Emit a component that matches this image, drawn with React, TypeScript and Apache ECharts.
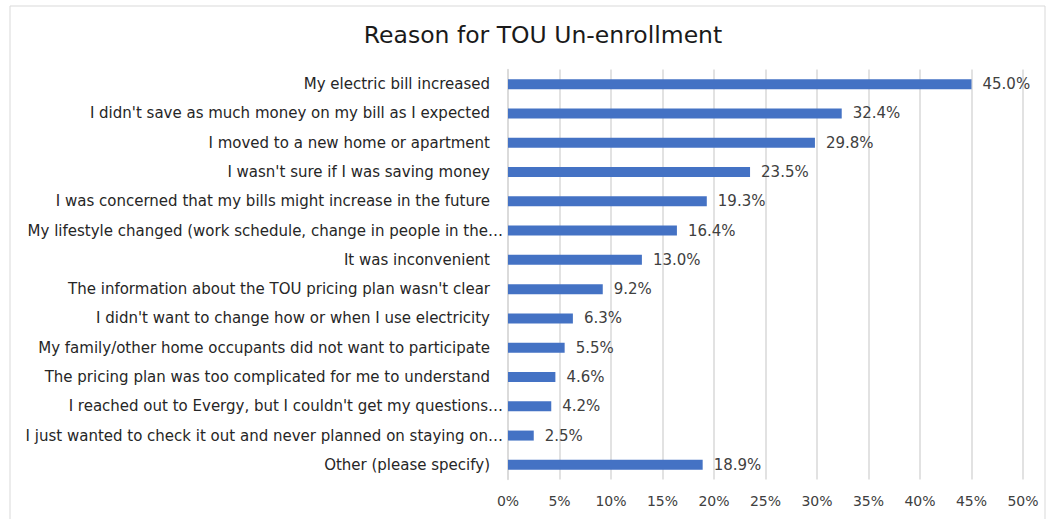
import React, { useEffect, useRef } from "react";
import * as echarts from "echarts";

const title = "Reason for TOU Un-enrollment";
const categories = [
  "My electric bill increased",
  "I didn't save as much money on my bill as I expected",
  "I moved to a new home or apartment",
  "I wasn't sure if I was saving money",
  "I was concerned that my bills might increase in the future",
  "My lifestyle changed (work schedule, change in people in the…",
  "It was inconvenient",
  "The information about the TOU pricing plan wasn't clear",
  "I didn't want to change how or when I use electricity",
  "My family/other home occupants did not want to participate",
  "The pricing plan was too complicated for me to understand",
  "I reached out to Evergy, but I couldn't get my questions…",
  "I just wanted to check it out and never planned on staying on…",
  "Other (please specify)",
];
const values = [45.0, 32.4, 29.8, 23.5, 19.3, 16.4, 13.0, 9.2, 6.3, 5.5, 4.6, 4.2, 2.5, 18.9];
const xTicks = [0, 5, 10, 15, 20, 25, 30, 35, 40, 45, 50];

const WIDE = "'DejaVu Sans', sans-serif";

export default function App() {
  const ref = useRef<HTMLDivElement>(null);
  useEffect(() => {
    if (!ref.current) return;
    const chart = echarts.init(ref.current, undefined, { renderer: "svg" });
    chart.setOption({
      animation: false,
      backgroundColor: "#ffffff",
      title: {
        text: title,
        left: 538,
        textAlign: "center",
        top: 18,
        textStyle: { fontFamily: WIDE, fontSize: 23.5, fontWeight: "normal", color: "#1a1a1a" },
      },
      graphic: [
        {
          type: "rect",
          shape: { x: 10, y: 6, width: 1035, height: 530 },
          style: { fill: "none", stroke: "#d9d9d9", lineWidth: 1 },
          silent: true,
        },
      ],
      grid: { left: 508, right: 30, top: 69.5, bottom: 39.5, containLabel: false },
      xAxis: {
        type: "value",
        min: xTicks[0],
        max: xTicks[xTicks.length - 1],
        interval: 5,
        axisLabel: {
          formatter: (v: number) => v + "%",
          fontFamily: WIDE,
          fontSize: 14,
          color: "#404040",
          margin: 14,
        },
        axisLine: { show: false },
        axisTick: { show: false },
        splitLine: { show: true, lineStyle: { color: "#d9d9d9", width: 1.5 } },
      },
      yAxis: {
        type: "category",
        data: categories,
        inverse: true,
        axisLine: { show: true, lineStyle: { color: "#d9d9d9", width: 1.5 } },
        axisTick: { show: false },
        axisLabel: {
          fontFamily: WIDE,
          fontSize: 15,
          color: "#262626",
          margin: 5,
          formatter: (v: string) => (v.endsWith("…") ? v : `{p|${v}}`),
          rich: {
            p: { fontFamily: WIDE, fontSize: 15, color: "#262626", padding: [0, 13, 0, 0] },
          },
        },
      },
      series: [
        {
          type: "bar",
          data: values,
          barWidth: 10,
          itemStyle: { color: "#4472C4" },
          label: {
            show: true,
            position: "right",
            distance: 11,
            formatter: (p: any) => p.value.toFixed(1) + "%",
            fontFamily: WIDE,
            fontSize: 15,
            color: "#404040",
          },
        },
      ],
    });
    return () => chart.dispose();
  }, []);
  return (
    <div
      ref={ref}
      style={{ position: "absolute", left: 0, top: 0, width: 1053, height: 519 }}
    />
  );
}
